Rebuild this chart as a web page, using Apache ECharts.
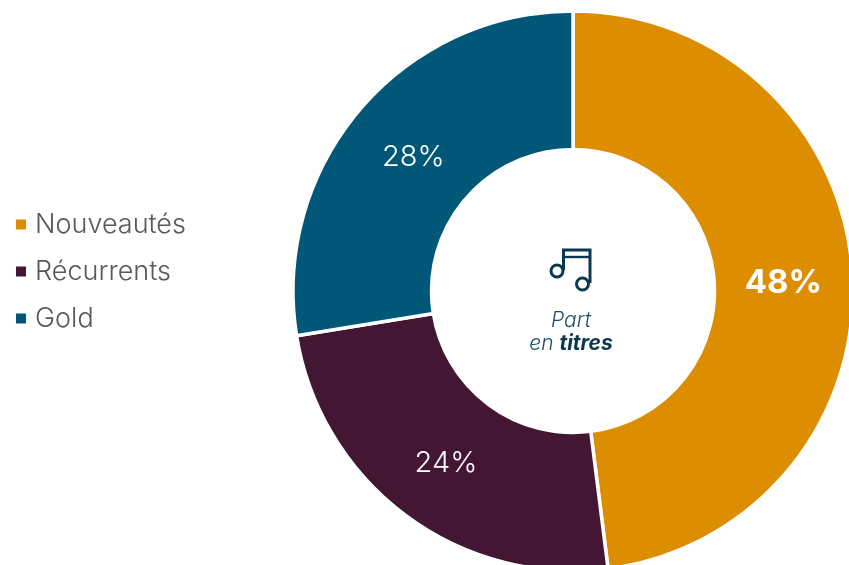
<!DOCTYPE html>
<html><head><meta charset="utf-8">
<style>html,body{margin:0;padding:0;background:#fff}#c{width:849px;height:565px}</style>
<script src="https://cdn.jsdelivr.net/npm/echarts@6/dist/echarts.min.js"></script></head>
<body><div id="c"></div>
<script>
const categories = ['Nouveautés', 'Récurrents', 'Gold'];
const values = [48, 24.45, 27.55];
const colors = ['#DD8D00', '#431634', '#005778'];
const font = 'Inter';
const chart = echarts.init(document.getElementById('c'), null, {renderer: 'canvas'});
const ink = '#0A3850';
chart.setOption({
  animation: false,
  legend: {
    orient: 'vertical', left: 16, top: 211, padding: 0, itemWidth: 10, itemHeight: 10, itemGap: 20, icon: 'rect',
    itemStyle: {borderWidth: 0},
    textStyle: {fontFamily: font, fontWeight: 300, fontSize: 27, color: '#595959', lineHeight: 26, padding: [0, 0, 0, 4]},
    data: categories
  },
  series: [{
    type: 'pie', center: [573, 291], radius: [141.5, 280], startAngle: 90, clockwise: true,
    percentPrecision: 0, silent: true,
    itemStyle: {borderColor: '#fff', borderWidth: 3.5},
    label: {show: true, position: 'inside', color: '#fff', fontFamily: font, fontWeight: 300, fontSize: 29, formatter: '{d}%'},
    labelLine: {show: false},
    data: categories.map((name, i) => ({
      name, value: values[i], itemStyle: {color: colors[i]},
      label: i === 0 ? {fontWeight: 'bold', fontSize: 33, offset: [-3, 5]} : (i === 2 ? {offset: [3, 5]} : {offset: [1, 1]})
    }))
  }],
  graphic: [
    {type: 'polyline', shape: {points: [[563.5, 270], [563.5, 250], [590, 250], [590, 283]]}, style: {fill: 'none', stroke: ink, lineWidth: 3}},
    {type: 'line', shape: {x1: 563, y1: 257, x2: 590, y2: 257}, style: {stroke: ink, lineWidth: 2.4}},
    {type: 'circle', shape: {cx: 557, cy: 271, r: 6}, style: {fill: '#fff', stroke: ink, lineWidth: 3}},
    {type: 'circle', shape: {cx: 582.5, cy: 284, r: 6}, style: {fill: '#fff', stroke: ink, lineWidth: 3}},
    {type: 'text', x: 571, y: 321, style: {text: 'Part', fontFamily: font, fontStyle: 'italic', fontWeight: 300, fontSize: 21, fill: '#1F4E66', align: 'center', verticalAlign: 'middle'}},
    {type: 'text', x: 571, y: 344, style: {
      text: '{a|en }{b|titres}', align: 'center', verticalAlign: 'middle',
      rich: {
        a: {fontFamily: font, fontStyle: 'italic', fontWeight: 300, fontSize: 21, fill: '#1F4E66', color: '#1F4E66'},
        b: {fontFamily: font, fontStyle: 'italic', fontWeight: 'bold', fontSize: 21, fill: ink, color: ink}
      }}}
  ]
});
</script></body></html>
